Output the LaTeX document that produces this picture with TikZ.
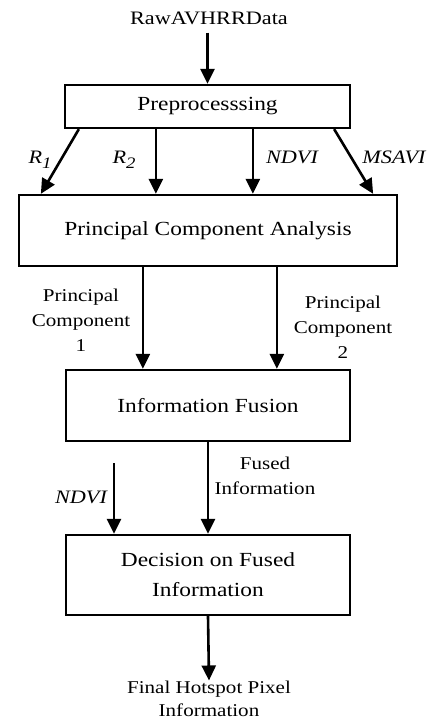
\documentclass[tikz,border=0pt]{standalone}
\usepackage{fontspec}
\setmainfont[FakeStretch=1.17]{Liberation Serif}
\usetikzlibrary{arrows.meta,calc}
\begin{document}
\begin{tikzpicture}[x=1pt,y=-1pt,
  box/.style={draw, line width=2.3pt, align=center, inner sep=0pt,
    font=\fontsize{20}{30}\selectfont},
  lbl/.style={inner sep=0pt, align=center, font=\fontsize{18}{25}\selectfont},
  ilbl/.style={inner sep=0pt, font=\fontsize{19}{22}\selectfont\itshape},
  arr/.style={line width=2.6pt, -{Triangle[length=15pt,width=14pt]}}]
\useasboundingbox (0,0) rectangle (430,724);
% nodes
\node[lbl, font=\fontsize{19}{22}\selectfont] (raw) at (209,18) {RawAVHRRData};
\node[box, minimum width=285pt, minimum height=43pt] (pre) at (207.5,106.5) {Preprocesssing};
\node[box, minimum width=378pt, minimum height=71pt] (pca) at (208,230.5) {Principal Component Analysis};
\node[box, minimum width=284pt, minimum height=71pt] (fus) at (208,405.5) {Information Fusion};
\node[box, minimum width=284pt, minimum height=80pt] (dec) at (208,575) {Decision on Fused\\Information};
\node[lbl, font=\fontsize{18}{23}\selectfont] (fin) at (209,698.5) {Final Hotspot Pixel\\Information};
% labels
\node[ilbl] (lr1) at (40,160) {R\raisebox{-5pt}{\fontsize{16}{18}\selectfont 1}};
\node[ilbl] (lr2) at (124,160) {R\raisebox{-5pt}{\fontsize{16}{18}\selectfont 2}};
\node[ilbl] (lndvi) at (292,157) {NDVI};
\node[ilbl] (lmsavi) at (394,157) {MSAVI};
\node[lbl] (lpc1) at (81,320) {Principal\\Component\\1};
\node[lbl] (lpc2) at (343,327) {Principal\\Component\\2};
\node[lbl] (lfused) at (265,475.5) {Fused\\Information};
\node[ilbl] (lndvi2) at (81,497) {NDVI};
% connectors
\draw[arr, shorten <=8pt] (raw.south -| pre.north) -- (pre.north);
\draw[arr] ($(pre.south west)+(15,0)$) -- ($(pca.north west)+(23,0)$);
\draw[arr] ($(pre.south west)+(92,0)$) coordinate (r2s) -- (r2s |- pca.north);
\draw[arr] ($(pre.south west)+(189,0)$) coordinate (nds) -- (nds |- pca.north);
\draw[arr] ($(pre.south east)+(-17,0)$) -- ($(pca.north east)+(-25,0)$);
\draw[arr] ($(pca.south west)+(125,0)$) coordinate (p1s) -- (p1s |- fus.north);
\draw[arr] ($(pca.south west)+(259,0)$) coordinate (p2s) -- (p2s |- fus.north);
\draw[arr] (fus.south) -- (dec.north);
\coordinate (nd2) at (114,463);
\draw[arr] (nd2) -- (nd2 |- dec.north);
\draw[arr] (dec.south) -- (fin.north);
\end{tikzpicture}
\end{document}
